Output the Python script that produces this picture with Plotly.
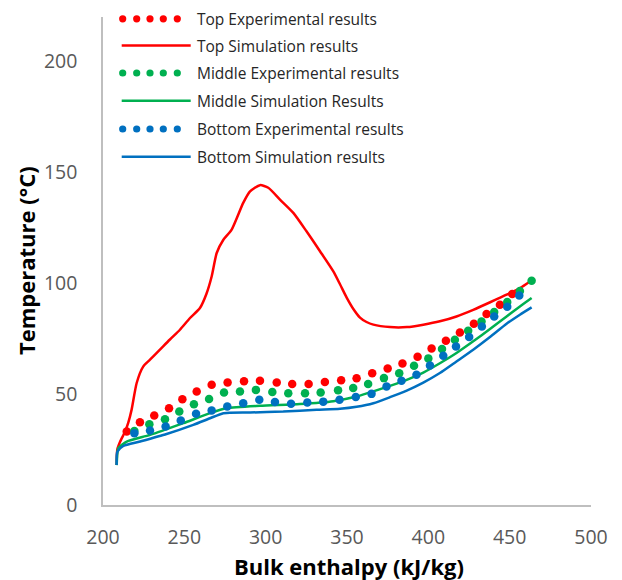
import plotly.graph_objects as go

# ---- data ----
top_sim_x = [208.4, 208.8, 210.5, 213.5, 215.5, 217.6, 220.7, 224.7, 228.9, 235, 241, 247.3, 253.5,
             259.6, 263.5, 266.8, 269.9, 274, 279, 286.2, 290.4, 296.5, 301.6, 308.8, 317, 325.1,
             333.4, 341.6, 345.7, 349.8, 353.8, 358, 362, 366.2, 376.4, 386.9, 396.9, 407.1, 417.3,
             427.6, 438, 448.1, 456.3, 462.5]
top_sim_y = [18, 25, 28.5, 33, 37, 43, 55, 62.4, 65.5, 70, 74.5, 79, 84.3,
             88.8, 95, 103, 113.6, 119.6, 124, 136.2, 141.4, 144.2, 143, 137.7, 131.7, 123.4,
             114.4, 105.3, 99.5, 93.5, 88.5, 84.5, 82.5, 81.3, 80.2, 80.2, 81.3, 82.8, 85,
             88, 91.4, 94.8, 97.8, 100.8]

mid_sim_x = [208.4, 208.8, 209.4, 214.6, 228.9, 249.4, 265.8, 276, 296.5, 321, 341.6, 355.9,
             366.2, 376.4, 386.7, 396.9, 407.1, 417.3, 427.6, 437.9, 448.1, 456.3, 463.5]
mid_sim_y = [18, 23, 25.6, 28.6, 31.6, 36.9, 41.4, 43.6, 44.7, 45.5, 46.8, 48.9,
             51.2, 53.7, 56.4, 59.7, 63.9, 68.5, 73.8, 79.3, 85, 89.5, 93.3]

bot_sim_x = [208.4, 208.8, 212.5, 222.7, 239.1, 255.5, 265.8, 274, 290.4, 310.8, 331.3, 345.7,
             355.9, 366.2, 376.4, 386.7, 396.9, 407.1, 417.3, 427.6, 437.9, 448.1, 456.3, 463.5]
bot_sim_y = [18, 24, 26.6, 28.6, 32, 36.1, 39.1, 41.4, 41.7, 42.1, 42.9, 43.4,
             44.3, 45.9, 48.6, 51.6, 55.2, 59.5, 64.7, 70, 75.7, 81.7, 85.8, 89.1]

top_exp_x = [214.6, 222.7, 231.5, 240.6, 248.8, 257.6, 266.8, 276.6, 286.7, 296.5, 306.8, 316.3,
             326.4, 336.4, 346.4, 355.9, 365.5, 375, 384.1, 393.4, 402, 410.8, 419.4, 428,
             435.8, 444, 451.6]
top_exp_y = [33.1, 37.3, 40.3, 43.6, 47.7, 51.2, 54.2, 55.2, 55.8, 56, 55.2, 54.5,
             54.6, 55.5, 56.2, 57.1, 59.4, 61.5, 63.8, 66.8, 70.6, 74, 77.8, 81.7,
             86.1, 90.3, 95.1]

mid_exp_x = [219.3, 228.5, 238.1, 246.9, 255.9, 265.2, 274.4, 284.2, 294, 304.1, 313.9, 324.2,
             333.8, 344.5, 353.8, 363, 372.7, 382.1, 391.2, 400, 408.4, 416.3, 424.5, 432.7,
             440.5, 448.5, 456.3, 463.5]
mid_exp_y = [33.4, 36.4, 38.7, 42.1, 45.4, 47.8, 50.7, 51.2, 51.9, 50.9, 50.4, 50.4,
             50.7, 51.7, 52.7, 54.6, 57.2, 59.4, 62.8, 66.1, 70.3, 74.5, 78.6, 82.7,
             87, 91.5, 96.5, 101.1]

bot_exp_x = [219.3, 228.9, 238.5, 247.8, 257.2, 266.8, 276.4, 286.2, 296.1, 305.7, 315.6, 325.6,
             335.4, 345.4, 355.4, 365.1, 374.3, 383.5, 392.7, 401, 409.2, 417, 425.1, 432.9,
             440.5, 448.5, 455.9]
bot_exp_y = [32.4, 33.6, 35.4, 38.1, 41.1, 42.6, 44.4, 45.9, 47.4, 46.4, 45.6, 46.2,
             46.6, 47.4, 48.7, 50.1, 53.4, 56, 58.7, 62.9, 67.3, 71.5, 75.7, 80.5,
             85, 89.4, 94.4]

x_ticks = [200, 250, 300, 350, 400, 450, 500]
y_ticks = [0, 50, 100, 150, 200]

series_names = ["Top Experimental results", "Top Simulation results",
                "Middle Experimental results", "Middle Simulation Results",
                "Bottom Experimental results", "Bottom Simulation results"]

RED, GREEN, BLUE = "#FF0000", "#00B050", "#0070C0"
FONT = "Open Sans"

fig = go.Figure()
traces = [
    (top_exp_x, top_exp_y, RED, "markers"),
    (top_sim_x, top_sim_y, RED, "lines"),
    (mid_exp_x, mid_exp_y, GREEN, "markers"),
    (mid_sim_x, mid_sim_y, GREEN, "lines"),
    (bot_exp_x, bot_exp_y, BLUE, "markers"),
    (bot_sim_x, bot_sim_y, BLUE, "lines"),
]
for (xs, ys, c, mode), name in zip(traces, series_names):
    if mode == "markers":
        fig.add_trace(go.Scatter(x=xs, y=ys, mode="markers", name=name,
                                 marker=dict(color=c, size=8.5, line=dict(width=0))))
    else:
        fig.add_trace(go.Scatter(x=xs, y=ys, mode="lines", name=name,
                                 line=dict(color=c, width=2.5, shape="spline", smoothing=0.6)))

# ---- manual legend (five-dot samples like the original) ----
# page coordinates of the plot area: left 103, top 17, 488 x 488 px
W = 488.0
def px_x(p):
    return (p - 103) / W
def px_y(p):
    return (505 - p) / W

row_y = [18.8, 45.5, 73, 100.7, 129, 156.7]
dot_x = [122.7, 136.7, 150, 163.3, 177.3]
shapes = []
annotations = []
for (xs, ys, c, mode), name, ry in zip(traces, series_names, row_y):
    if mode == "markers":
        for dx in dot_x:
            shapes.append(dict(type="circle", xref="paper", yref="paper",
                               xsizemode="pixel", ysizemode="pixel",
                               xanchor=px_x(dx), yanchor=px_y(ry),
                               x0=-3.6, x1=3.6, y0=-3.6, y1=3.6,
                               fillcolor=c, line=dict(width=0)))
    else:
        shapes.append(dict(type="line", xref="paper", yref="paper",
                           x0=px_x(121.7), x1=px_x(190.7), y0=px_y(ry), y1=px_y(ry),
                           line=dict(color=c, width=2.5)))
    annotations.append(dict(text=name, xref="paper", yref="paper",
                            x=px_x(196), y=px_y(ry), xanchor="left", yanchor="middle",
                            borderpad=0,
                            showarrow=False, font=dict(family=FONT, size=15.5, color="#262626")))

annotations.append(dict(text="<b>Bulk enthalpy (kJ/kg)</b>", xref="paper", yref="paper",
                        x=px_x(349), y=px_y(565.5), xanchor="center", yanchor="middle",
                        borderpad=0,
                        showarrow=False, font=dict(family=FONT, size=22, color="#000000")))
annotations.append(dict(text="<b>Temperature (°C)</b>", xref="paper", yref="paper",
                        x=px_x(26), y=px_y(261), xanchor="center", yanchor="middle",
                        textangle=-90, showarrow=False,
                        font=dict(family=FONT, size=22, color="#000000")))

# The page body has an 8 px margin, so the figure is 8 px smaller and margins shifted.
fig.update_layout(
    width=614, height=572,
    margin=dict(l=95, r=31, t=9, b=75),
    paper_bgcolor="white", plot_bgcolor="white",
    showlegend=False,
    shapes=shapes, annotations=annotations,
    font=dict(family=FONT),
)
fig.update_xaxes(range=[200, 500], tickvals=x_ticks, showgrid=False, zeroline=False,
                 showline=True, linecolor="#BFBFBF", linewidth=1.5,
                 ticks="", ticklabelstandoff=14,
                 tickfont=dict(family=FONT, size=19.5, color="#595959"))
fig.update_yaxes(range=[0, 220], tickvals=y_ticks, showgrid=False, zeroline=False,
                 showline=True, linecolor="#BFBFBF", linewidth=1.5,
                 ticks="", ticklabelstandoff=20,
                 tickfont=dict(family=FONT, size=19.5, color="#595959"))

fig.write_html("out.html")
